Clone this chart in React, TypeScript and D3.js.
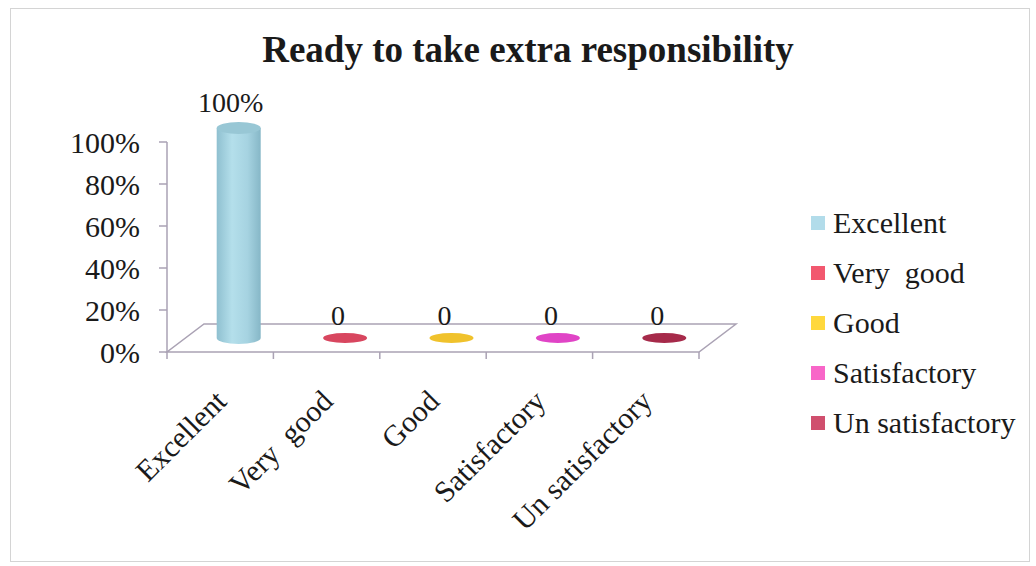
import { useEffect, useRef } from "react";
import * as d3 from "d3";

const categories = ["Excellent", "Very  good", "Good", "Satisfactory", "Un satisfactory"];
const values = [1, 0, 0, 0, 0];
const valueLabels = ["100%", "0", "0", "0", "0"];
const barColors = ["#a9d6e3", "#d8465f", "#f0c22c", "#e044c6", "#a62a4a"];
const legendColors = ["#b2dcea", "#f2586f", "#ffd83c", "#f866c8", "#d04f6e"];
const yTicks = [0, 0.2, 0.4, 0.6, 0.8, 1];

const W = 1036;
const H = 566;
const serif = "Liberation Serif, Times New Roman, serif";

export default function App() {
  const svgRef = useRef<SVGSVGElement | null>(null);

  useEffect(() => {
    const svg = d3.select(svgRef.current);
    svg.selectAll("*").remove();

    // front plane of the plot and depth offset of the 3D floor
    const left = 167;
    const right = 699;
    const depth = { x: 37, y: -28 };

    const x = d3.scaleBand<string>().domain(categories).range([left, right]);
    const y = d3.scaleLinear().domain([0, 1]).range([352, 142]);
    const y0 = y(0);

    svg
      .append("rect")
      .attr("x", 10.5)
      .attr("y", 8.5)
      .attr("width", 1019)
      .attr("height", 553)
      .attr("fill", "white")
      .attr("stroke", "#d4d4d4");

    const txt = (sel: d3.Selection<SVGTextElement, unknown, null, undefined>, size: number) =>
      sel
        .style("font-family", serif)
        .style("font-size", `${size}px`)
        .style("white-space", "pre")
        .attr("fill", "#1a1a1a");

    txt(
      svg
        .append("text")
        .attr("x", 528)
        .attr("y", 62)
        .attr("text-anchor", "middle")
        .style("font-weight", "bold")
        .text("Ready to take extra responsibility"),
      37
    );

    const lineColor = "#aaa2b4";

    // floor
    svg
      .append("path")
      .attr(
        "d",
        `M${left},${y0} L${right},${y0} L${right + depth.x},${y0 + depth.y} L${left + depth.x},${y0 + depth.y} Z`
      )
      .attr("fill", "none")
      .attr("stroke", lineColor)
      .attr("stroke-width", 1.5);

    // y axis
    svg
      .append("line")
      .attr("x1", left)
      .attr("x2", left)
      .attr("y1", y(1))
      .attr("y2", y0)
      .attr("stroke", lineColor)
      .attr("stroke-width", 1.5);
    yTicks.forEach((t) => {
      svg
        .append("line")
        .attr("x1", left - 8)
        .attr("x2", left)
        .attr("y1", y(t))
        .attr("y2", y(t))
        .attr("stroke", lineColor)
        .attr("stroke-width", 1.5);
      txt(
        svg
          .append("text")
          .attr("x", 140)
          .attr("y", y(t))
          .attr("dy", "0.35em")
          .attr("text-anchor", "end")
          .text(d3.format(".0%")(t)),
        30
      );
    });

    // category ticks
    const bounds = categories.map((c) => x(c) as number).concat([right]);
    bounds.forEach((b) => {
      svg
        .append("line")
        .attr("x1", b)
        .attr("x2", b)
        .attr("y1", y0)
        .attr("y2", y0 + 7)
        .attr("stroke", lineColor)
        .attr("stroke-width", 1.5);
    });

    // shading for the cylinder
    const defs = svg.append("defs");
    const grad = defs
      .append("linearGradient")
      .attr("id", "cyl")
      .attr("x1", "0")
      .attr("x2", "1")
      .attr("y1", "0")
      .attr("y2", "0");
    grad.append("stop").attr("offset", "0%").attr("stop-color", "#8fc0d0");
    grad.append("stop").attr("offset", "35%").attr("stop-color", "#b4dfeb");
    grad.append("stop").attr("offset", "70%").attr("stop-color", "#a6d3e1");
    grad.append("stop").attr("offset", "100%").attr("stop-color", "#86b7c7");

    const rx = 22;
    const ry = 6;
    categories.forEach((c, i) => {
      const cx = (x(c) as number) + x.bandwidth() / 2 + depth.x / 2;
      const base = y0 + depth.y / 2;
      const top = y(values[i]) + depth.y / 2;
      if (values[i] > 0) {
        svg
          .append("path")
          .attr(
            "d",
            `M${cx - rx},${top} L${cx - rx},${base} A${rx},${ry} 0 0 0 ${cx + rx},${base} L${cx + rx},${top} Z`
          )
          .attr("fill", "url(#cyl)");
        svg
          .append("ellipse")
          .attr("cx", cx)
          .attr("cy", top)
          .attr("rx", rx)
          .attr("ry", ry)
          .attr("fill", "#98c7d5");
        txt(
          svg
            .append("text")
            .attr("x", cx - 8)
            .attr("y", top - 16)
            .attr("text-anchor", "middle")
            .text(valueLabels[i]),
          28
        );
      } else {
        svg
          .append("ellipse")
          .attr("cx", cx)
          .attr("cy", base)
          .attr("rx", rx)
          .attr("ry", 5)
          .attr("fill", barColors[i]);
        txt(
          svg
            .append("text")
            .attr("x", cx - 7)
            .attr("y", base - 13)
            .attr("text-anchor", "middle")
            .text(valueLabels[i]),
          28
        );
      }
    });

    // rotated category labels
    categories.forEach((c) => {
      const cx = (x(c) as number) + x.bandwidth() / 2;
      txt(
        svg
          .append("text")
          .attr("transform", `translate(${cx + 8},${403}) rotate(-45)`)
          .attr("text-anchor", "end")
          .text(c),
        30
      );
    });

    // legend
    const legend = svg.append("g").attr("transform", "translate(811,0)");
    categories.forEach((c, i) => {
      const ly = 233 + i * 50;
      legend
        .append("rect")
        .attr("x", 0)
        .attr("y", ly - 17)
        .attr("width", 14)
        .attr("height", 14)
        .attr("fill", legendColors[i]);
      txt(legend.append("text").attr("x", 22).attr("y", ly).text(c), 30);
    });
  }, []);

  return (
    <svg
      ref={svgRef}
      width={W}
      height={H}
      style={{ position: "absolute", left: 0, top: 0, background: "white" }}
    ></svg>
  );
}
